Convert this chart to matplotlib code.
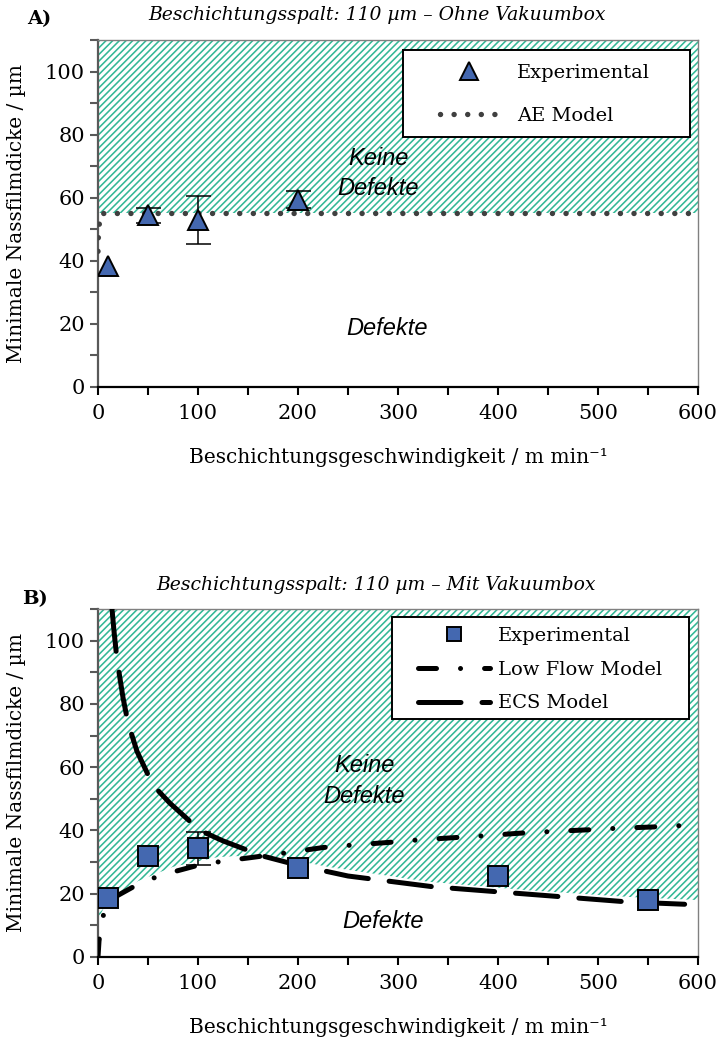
import matplotlib
matplotlib.use("Agg")
import matplotlib.pyplot as plt
from matplotlib.ticker import MultipleLocator
from matplotlib.patches import Rectangle

# ---- data ----
# panel A: without vacuum box
exp_a_x = [10, 50, 100, 200]
exp_a_y = [38.4, 54.4, 53.0, 59.4]
exp_a_err = [0.0, 2.3, 7.6, 2.7]
ae_x = [0, 0.3, 1, 3, 600]
ae_y = [43, 47, 51, 55, 55]
ok_a_x = [0, 600]
ok_a_lo = [55, 55]

# panel B: with vacuum box
exp_b_x = [10, 50, 100, 200, 400, 550]
exp_b_y = [18.6, 31.9, 34.3, 28.2, 25.6, 18.0]
exp_b_err = [0.0, 0.0, 5.3, 0.0, 0.0, 0.0]
lowflow_x = [0, 1, 3, 6, 10, 20, 40, 60, 80, 100, 125, 150, 190, 225, 255, 290,
             320, 355, 390, 420, 455, 490, 520, 555, 600]
lowflow_y = [0, 5, 10, 14, 17, 19.5, 23, 25.5, 27.3, 29, 30.3, 31.3, 33, 34.6,
             35.4, 36.2, 37, 37.7, 38.4, 39.1, 39.7, 40.2, 40.7, 41.1, 41.8]
ecs_x = [14, 16, 19, 25, 30, 39, 55, 72, 102, 125, 165, 200, 250, 335, 400,
         465, 530, 600]
ecs_y = [110, 103, 94, 82, 74, 65, 54.3, 48.6, 40, 36.7, 31.9, 29, 25.6, 22.2,
         20.6, 19, 17.4, 16.5]
ok_b_x = [0, 10, 40, 75, 120, 160, 190, 230, 330, 430, 530, 600]
ok_b_lo = [12, 18, 24, 28.5, 31.6, 32.2, 31, 28.5, 23.8, 21.1, 19, 18]

titles = ["Beschichtungsspalt: 110 \u00b5m \u2013 Ohne Vakuumbox",
          "Beschichtungsspalt: 110 \u00b5m \u2013 Mit Vakuumbox"]
xlabel = "Beschichtungsgeschwindigkeit / m min\u207b\u00b9"
ylabel = "Minimale Nassfilmdicke / \u00b5m"

TEAL = "#33b896"
BLUE = "#4468b0"
SERIF = ["DejaVu Serif"]
SANS = ["Liberation Sans", "DejaVu Sans"]

plt.rcParams["font.family"] = SERIF
plt.rcParams["hatch.linewidth"] = 1.15

W, H = 718, 1038
fig = plt.figure(figsize=(W / 100, H / 100), dpi=100)
axA = fig.add_axes([98 / W, 651 / H, 600 / W, 347 / H])
axB = fig.add_axes([98 / W, 81 / H, 600 / W, 348 / H])


def px_to_axes(ax_bottom, ax_h, x, y):
    # convert reference pixel position into axes fraction
    return (x - 98) / 600, (ax_bottom - y) / ax_h


def style_axes(ax):
    ax.set_xlim(0, 600)
    ax.set_ylim(0, 110)
    ax.xaxis.set_major_locator(MultipleLocator(100))
    ax.xaxis.set_minor_locator(MultipleLocator(50))
    ax.yaxis.set_major_locator(MultipleLocator(20))
    ax.yaxis.set_minor_locator(MultipleLocator(10))
    ax.spines["left"].set_color("#595959")
    ax.spines["left"].set_linewidth(1.6)
    ax.spines["bottom"].set_color("black")
    ax.spines["bottom"].set_linewidth(1.6)
    for s in ("top", "right"):
        ax.spines[s].set_color("#808080")
        ax.spines[s].set_linewidth(1.0)
    ax.tick_params(axis="both", which="both", direction="out", length=6,
                   width=1.5, labelsize=15)
    ax.tick_params(axis="y", which="both", colors="#595959", labelcolor="black")
    ax.tick_params(axis="x", pad=6)
    ax.set_xlabel(xlabel, fontsize=14.5, labelpad=18)
    ax.set_ylabel(ylabel, fontsize=14.5)
    ax.yaxis.set_label_coords(-0.12, 0.5)


def legend_box(ax, x0, y0, x1, y1, ax_bottom, ax_h):
    ax0, ay0 = px_to_axes(ax_bottom, ax_h, x0, y1)
    ax1, ay1 = px_to_axes(ax_bottom, ax_h, x1, y0)
    ax.add_patch(Rectangle((ax0, ay0), ax1 - ax0, ay1 - ay0,
                           transform=ax.transAxes, facecolor="white",
                           edgecolor="black", linewidth=1.4, zorder=8))


# ---- panel A ----
axA.fill_between(ok_a_x, ok_a_lo, 110, facecolor="none", edgecolor=TEAL,
                 hatch="/////", linewidth=0, zorder=1)
axA.plot(ae_x, ae_y, color="#404040", lw=3.9, linestyle=(0, (0.01, 2.5)),
         dash_capstyle="round", label="AE Model", zorder=3)
ea = [(x, y, e) for x, y, e in zip(exp_a_x, exp_a_y, exp_a_err) if e > 0]
axA.errorbar([p[0] for p in ea], [p[1] for p in ea], yerr=[p[2] for p in ea],
             fmt="none", ecolor="black", elinewidth=1.1, capsize=9,
             capthick=1.1, zorder=4)
axA.plot(exp_a_x, exp_a_y, linestyle="none", marker="^", ms=15,
         mfc=BLUE, mec="black", mew=1.4, label="Experimental", zorder=5)
style_axes(axA)
axA.text(280, 72.5, "Keine", fontsize=17, style="italic", family=SANS,
         ha="center", va="center", zorder=6)
axA.text(280, 63, "Defekte", fontsize=17, style="italic", family=SANS,
         ha="center", va="center", zorder=6)
axA.text(289, 18.7, "Defekte", fontsize=17, style="italic", family=SANS,
         ha="center", va="center", zorder=6)
legend_box(axA, 403, 50, 690, 137, 387, 347)
h, l = axA.get_legend_handles_labels()
legA = axA.legend(h[::-1], l[::-1], loc="upper left",
                  bbox_to_anchor=px_to_axes(387, 347, 440, 64),
                  fontsize=14, frameon=False, handlelength=2.95,
                  handletextpad=1.0, labelspacing=1.3, borderpad=0,
                  borderaxespad=0, markerscale=0.85)
legA.set_zorder(10)

# ---- panel B ----
axB.fill_between(ok_b_x, ok_b_lo, 110, facecolor="none", edgecolor=TEAL,
                 hatch="/////", linewidth=0, zorder=1)
axB.plot(lowflow_x, lowflow_y, color="black", lw=3.6,
         linestyle=(0, (3.6, 4.8, 0.01, 4.8)), dash_capstyle="round",
         label="Low Flow Model", zorder=3)
axB.plot(ecs_x, ecs_y, color="black", lw=3.6, linestyle=(0, (8.5, 4.2)),
         dash_capstyle="round", label="ECS Model", zorder=3)
eb = [(x, y, e) for x, y, e in zip(exp_b_x, exp_b_y, exp_b_err) if e > 0]
axB.errorbar([p[0] for p in eb], [p[1] for p in eb], yerr=[p[2] for p in eb],
             fmt="none", ecolor="black", elinewidth=1.1, capsize=9,
             capthick=1.1, zorder=4)
axB.plot(exp_b_x, exp_b_y, linestyle="none", marker="s", ms=15,
         mfc=BLUE, mec="black", mew=1.4, label="Experimental", zorder=5)
style_axes(axB)
axB.text(266, 60.6, "Keine", fontsize=17, style="italic", family=SANS,
         ha="center", va="center", zorder=6)
axB.text(266, 50.8, "Defekte", fontsize=17, style="italic", family=SANS,
         ha="center", va="center", zorder=6)
axB.text(285, 11.1, "Defekte", fontsize=17, style="italic", family=SANS,
         ha="center", va="center", zorder=6)
legend_box(axB, 392, 617, 689, 719, 957, 348)
h, l = axB.get_legend_handles_labels()
order = [2, 0, 1]
legB = axB.legend([h[i] for i in order], [l[i] for i in order],
                  loc="upper left",
                  bbox_to_anchor=px_to_axes(957, 348, 418, 627),
                  fontsize=14, frameon=False, handlelength=3.7,
                  handletextpad=0.4, labelspacing=0.81, borderpad=0,
                  borderaxespad=0, markerscale=0.7)
legB.set_zorder(10)

# titles and panel letters
fig.text(377 / W, 1 - 15 / H, titles[0], fontsize=13.5, style="italic",
         ha="center", va="center")
fig.text(376 / W, 1 - 585 / H, titles[1], fontsize=13.5, style="italic",
         ha="center", va="center")
fig.text(39 / W, 1 - 19 / H, "A)", fontsize=14, fontweight="bold",
         ha="center", va="center")
fig.text(35 / W, 1 - 599 / H, "B)", fontsize=14, fontweight="bold",
         ha="center", va="center")

fig.savefig("out.png", dpi=100)
